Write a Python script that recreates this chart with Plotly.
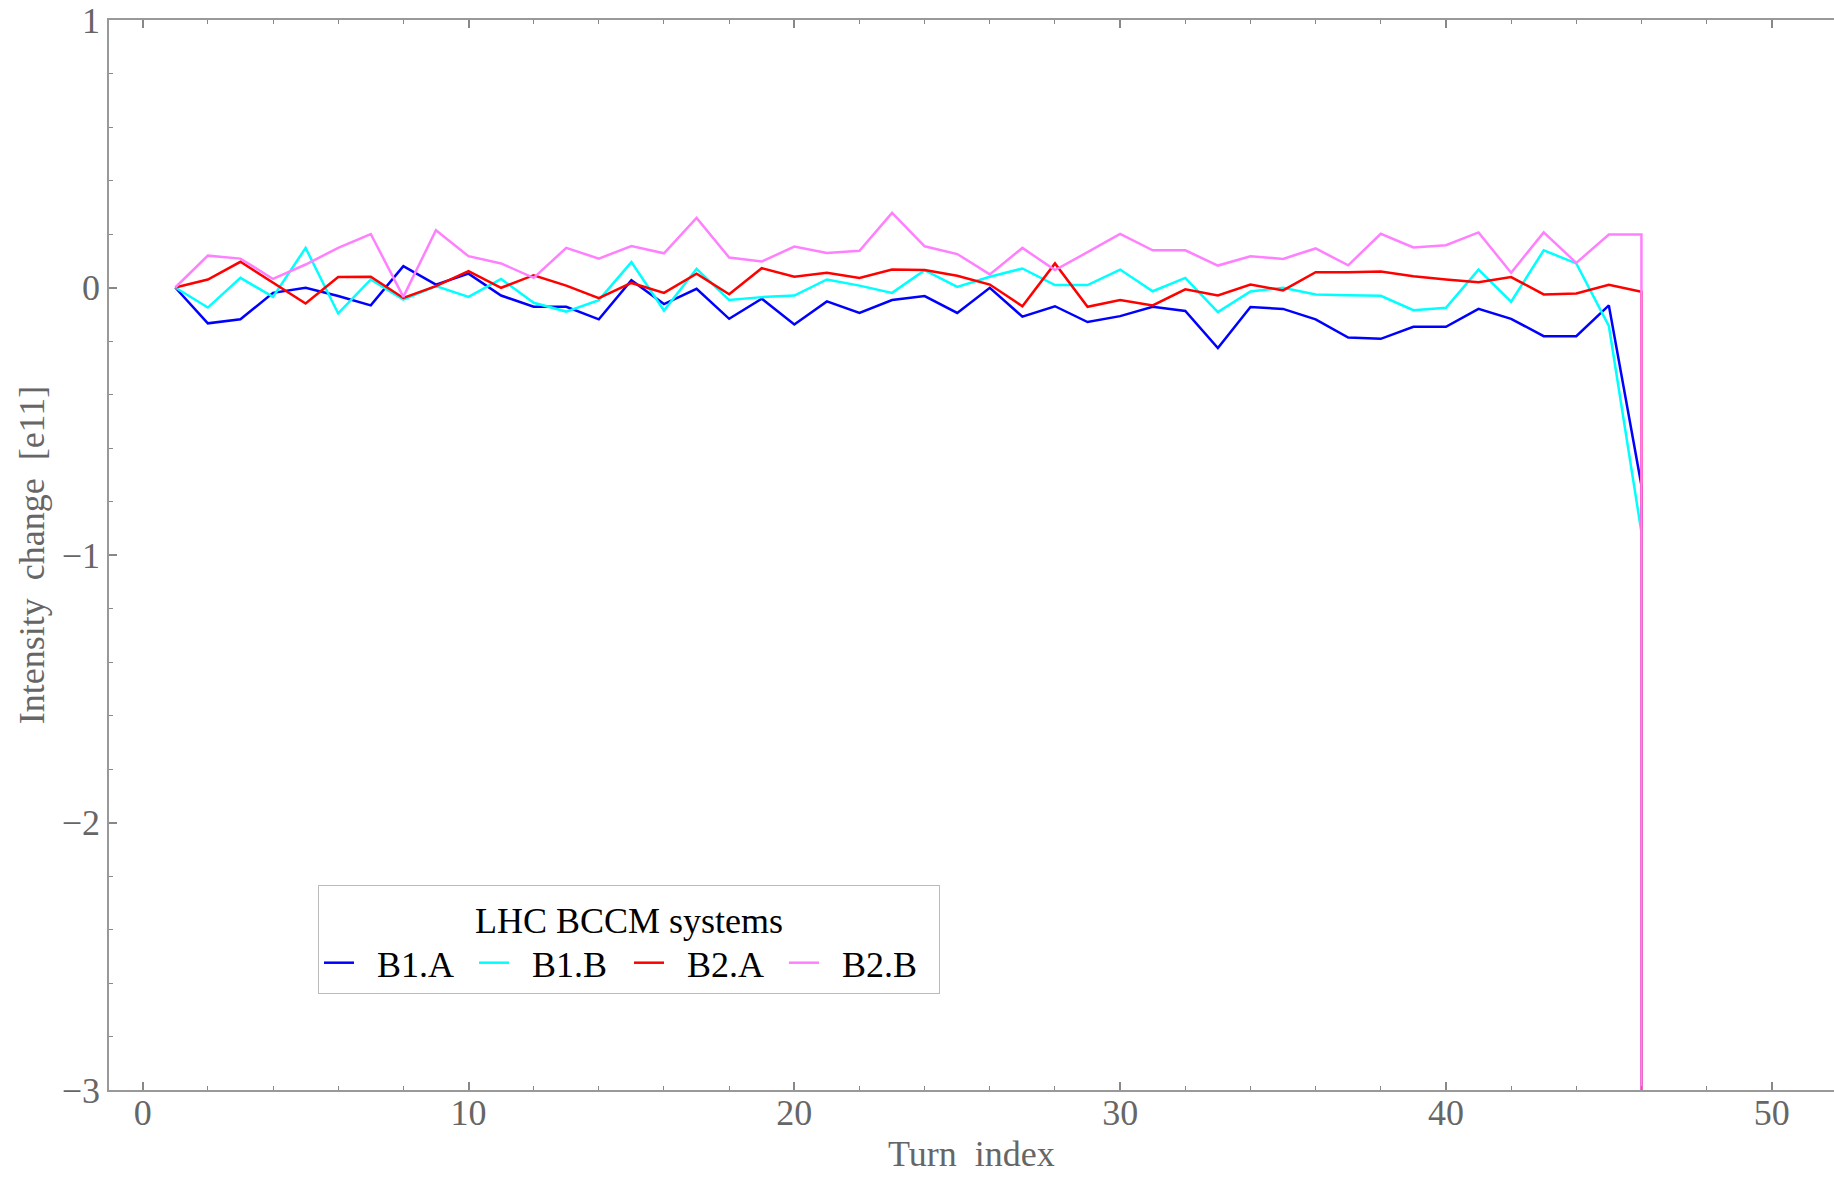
import plotly.graph_objects as go

# Turn index (the final repeated 46 is the dump drop, off-scale)
turns = [1, 2, 3, 4, 5, 6, 7, 8, 9, 10, 11, 12, 13, 14, 15, 16, 17, 18, 19, 20,
         21, 22, 23, 24, 25, 26, 27, 28, 29, 30, 31, 32, 33, 34, 35, 36, 37, 38, 39, 40,
         41, 42, 43, 44, 45, 46, 46]

b1a = [0.0, -0.134, -0.119, -0.02, -0.001, -0.032, -0.067, 0.08, 0.011, 0.052,
       -0.03, -0.072, -0.072, -0.119, 0.027, -0.062, -0.005, -0.117, -0.042, -0.138,
       -0.052, -0.095, -0.047, -0.032, -0.095, -0.001, -0.109, -0.07, -0.129, -0.107,
       -0.072, -0.088, -0.226, -0.073, -0.08, -0.119, -0.187, -0.192, -0.147, -0.147,
       -0.08, -0.117, -0.182, -0.182, -0.067, -0.74, -4.0]

b1b = [0.0, -0.075, 0.036, -0.035, 0.148, -0.097, 0.03, -0.045, 0.005, -0.035,
       0.032, -0.057, -0.09, -0.047, 0.095, -0.086, 0.07, -0.047, -0.036, -0.03,
       0.03, 0.007, -0.02, 0.065, 0.002, 0.04, 0.071, 0.009, 0.009, 0.067,
       -0.014, 0.036, -0.092, -0.015, -0.001, -0.026, -0.029, -0.031, -0.085, -0.076,
       0.067, -0.053, 0.139, 0.09, -0.144, -0.915, -4.0]

b2a = [0.0, 0.03, 0.096, 0.017, -0.06, 0.039, 0.04, -0.039, 0.005, 0.061,
       -0.001, 0.046, 0.007, -0.04, 0.017, -0.02, 0.052, -0.025, 0.072, 0.04,
       0.055, 0.036, 0.067, 0.065, 0.044, 0.011, -0.07, 0.09, -0.072, -0.047,
       -0.067, -0.007, -0.03, 0.011, -0.011, 0.057, 0.057, 0.06, 0.042, 0.03,
       0.02, 0.039, -0.026, -0.022, 0.01, -0.016, -4.0]

b2b = [0.0, 0.119, 0.108, 0.032, 0.086, 0.148, 0.2, -0.035, 0.214, 0.117,
       0.09, 0.036, 0.148, 0.108, 0.155, 0.128, 0.26, 0.112, 0.097, 0.153,
       0.129, 0.137, 0.279, 0.154, 0.125, 0.049, 0.148, 0.065, 0.132, 0.2,
       0.139, 0.139, 0.082, 0.117, 0.107, 0.146, 0.083, 0.201, 0.15, 0.158,
       0.206, 0.055, 0.206, 0.092, 0.198, 0.198, -4.0]

series_names = ["B1.A", "B1.B", "B2.A", "B2.B"]
series_colors = ["#0000ff", "#00ffff", "#ff0000", "#ff80ff"]
series_values = [b1a, b1b, b2a, b2b]

x_ticks = [0, 10, 20, 30, 40, 50]
y_ticks = [-3, -2, -1, 0, 1]

FONT = "Liberation Serif, Times New Roman, serif"
PAD = "\u00a0\u00a0"  # gap between legend line and label

fig = go.Figure()
for name, color, vals in zip(series_names, series_colors, series_values):
    fig.add_trace(go.Scatter(x=turns, y=vals, mode="lines", name=PAD + name,
                             line=dict(color=color, width=2.5)))

W, H = 1834, 1180
L, R, T, B = 109, 0, 20, 90

fig.update_layout(
    width=W, height=H,
    margin=dict(l=L, r=R, t=T, b=B, autoexpand=False),
    paper_bgcolor="white", plot_bgcolor="white",
    font=dict(family=FONT, size=36, color="#666666"),
    showlegend=True,
    legend=dict(
        title=dict(text="LHC BCCM systems", side="top center",
                   font=dict(family=FONT, size=36, color="black")),
        orientation="h",
        x=(318 - L) / (W - L - R), y=(H - B - 885) / (H - T - B),
        xanchor="left", yanchor="top",
        bgcolor="white", bordercolor="#bbbbbb", borderwidth=1,
        font=dict(family=FONT, size=36, color="black"),
        itemwidth=30,
        entrywidth=110, entrywidthmode="pixels",
        tracegroupgap=0,
    ),
    annotations=[dict(
        text="Turn  index", xref="paper", yref="paper",
        x=0.5, y=-(1154 - (H - B)) / (H - T - B), xanchor="center", yanchor="middle",
        showarrow=False, font=dict(family=FONT, size=36, color="#666666"),
    )],
)

fig.update_xaxes(
    range=[-1.034, 51.91],
    tickmode="array", tickvals=x_ticks,
    ticks="inside", ticklen=8, tickwidth=1.5, tickcolor="#888888",
    minor=dict(dtick=2, tick0=0, ticks="inside", ticklen=4, tickwidth=1, tickcolor="#888888"),
    showline=True, linecolor="#999999", linewidth=1.5, mirror="ticks",
    showgrid=False, zeroline=False,
    ticklabelstandoff=-10,
    tickfont=dict(family=FONT, size=36, color="#666666"),
)
fig.update_yaxes(
    range=[-3, 1],
    tickmode="array", tickvals=y_ticks,
    ticks="inside", ticklen=8, tickwidth=1.5, tickcolor="#888888",
    minor=dict(dtick=0.2, tick0=0, ticks="inside", ticklen=4, tickwidth=1, tickcolor="#888888"),
    showline=True, linecolor="#999999", linewidth=1.5,
    showgrid=False, zeroline=False,
    tickfont=dict(family=FONT, size=36, color="#666666"),
    title=dict(text="Intensity  change  [e11]", standoff=6, font=dict(family=FONT, size=36, color="#666666")),
)

fig.write_html("out.html")
